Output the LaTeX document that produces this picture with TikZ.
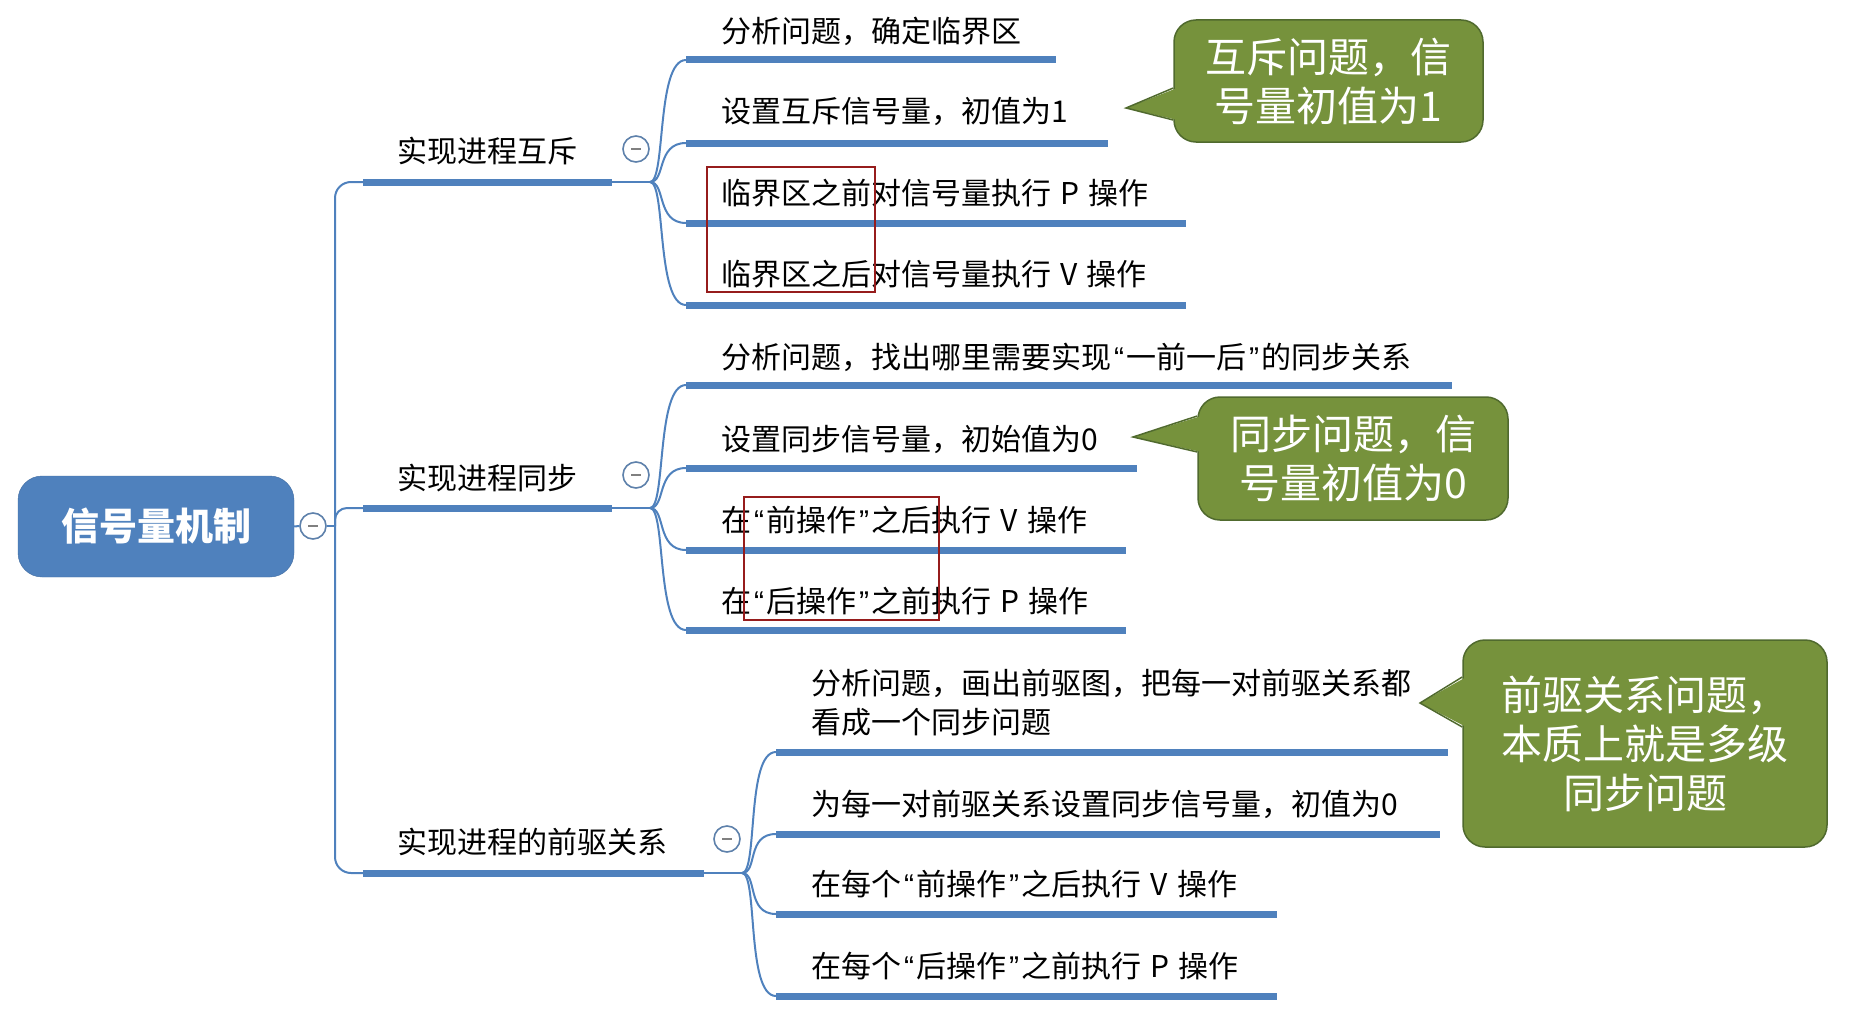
\documentclass[tikz,border=0pt]{standalone}
\usepackage{fontspec}
\setmainfont{Noto Sans CJK SC}
\newfontfamily\quotefont{Liberation Sans}
\newcommand{\lquo}{{\kern.1em\quotefont “\kern.08em}}
\newcommand{\rquo}{{\kern.08em\quotefont ”\kern.1em}}
\newcommand{\wsp}{\hspace{0.3em}}
\usetikzlibrary{positioning}
\definecolor{mapblue}{RGB}{79,129,189}
\definecolor{tipgreen}{RGB}{118,146,60}
\definecolor{tipedge}{RGB}{80,106,46}
\definecolor{markred}{RGB}{150,28,28}
\tikzset{
  rootnode/.style={draw=mapblue!85!black, fill=mapblue, rounded corners=24pt, minimum width=276pt, minimum height=101pt, text=white, font=\fontsize{38}{46}\selectfont\bfseries},
  branchtext/.style={anchor=west, inner sep=0pt, font=\fontsize{30}{35}\selectfont},
  leaftext/.style={anchor=west, inner sep=0pt, align=left, font=\fontsize{30}{39}\selectfont},
  bar/.style={mapblue, line width=7pt},
  twig/.style={mapblue, line width=2pt},
  foldmark/.style={circle, draw=mapblue!70!gray, fill=white, line width=1.6pt, minimum size=26pt, inner sep=0pt,
    path picture={\draw[gray, line width=1.6pt] ([xshift=-5pt]path picture bounding box.center) -- ([xshift=5pt]path picture bounding box.center);}},
  tipbox/.style={draw=tipedge, fill=tipgreen, line width=1.5pt, rounded corners=22pt, text=white, align=center, font=\fontsize{41}{49}\selectfont},
  tiptail/.style={draw=tipedge, line width=1.5pt},
  hilite/.style={draw=markred, line width=1.8pt}
}

\begin{document}
\begin{tikzpicture}[x=1pt, y=-1pt]
  \useasboundingbox (0,0) rectangle (1854,1022);

  % root
  \node[rootnode] (root) at (156,526.5) {信号量机制};
  \node[foldmark] (rootfold) at (313,526) {};
  \coordinate (trunk) at (335,526);
  \draw[twig] (root.east) -- (rootfold.west);
  \draw[twig] (rootfold.east) -- (trunk);

  % branch 1
  \coordinate (b1s) at (363,182);
  \coordinate (b1e) at (612,182);
  \coordinate (b1f) at (650,182);
  \node[branchtext] (b1) at (397,151) {实现进程互斥};
  \node[foldmark] (b1fold) at (636,149) {};
  \draw[twig, rounded corners=16pt] (trunk) |- (b1s);
  \draw[bar] (b1s) -- (b1e);
  \draw[twig] (b1e) -- (b1f);

  \node[leaftext] (c11) at (721,31) {分析问题，确定临界区};
  \node[leaftext] (c12) at (721,112) {设置互斥信号量，初值为1};
  \node[leaftext] (c13) at (721,193) {临界区之前对信号量执行\wsp P\wsp 操作};
  \node[leaftext] (c14) at (721,274) {临界区之后对信号量执行\wsp V\wsp 操作};
  \coordinate (c11s) at (686,60);  \coordinate (c11e) at (1056,60);
  \coordinate (c12s) at (686,143); \coordinate (c12e) at (1108,143);
  \coordinate (c13s) at (686,223); \coordinate (c13e) at (1186,223);
  \coordinate (c14s) at (686,305); \coordinate (c14e) at (1186,305);
  \foreach \c in {c11,c12,c13,c14} {
    \draw[twig] (b1f) .. controls +(16,0) and +(-30,0) .. (\c s);
    \draw[bar] (\c s) -- (\c e);
  }

  % branch 2
  \coordinate (b2s) at (363,508);
  \coordinate (b2e) at (612,508);
  \coordinate (b2f) at (650,508);
  \node[branchtext] (b2) at (397,478) {实现进程同步};
  \node[foldmark] (b2fold) at (636,475) {};
  \draw[twig, rounded corners=12pt] (trunk) |- (b2s);
  \draw[bar] (b2s) -- (b2e);
  \draw[twig] (b2e) -- (b2f);

  \node[leaftext] (c21) at (721,357) {分析问题，找出哪里需要实现\lquo 一前一后\rquo 的同步关系};
  \node[leaftext] (c22) at (721,439) {设置同步信号量，初始值为0};
  \node[leaftext] (c23) at (721,520) {在\lquo 前操作\rquo 之后执行\wsp V\wsp 操作};
  \node[leaftext] (c24) at (721,601) {在\lquo 后操作\rquo 之前执行\wsp P\wsp 操作};
  \coordinate (c21s) at (686,385); \coordinate (c21e) at (1452,385);
  \coordinate (c22s) at (686,468); \coordinate (c22e) at (1137,468);
  \coordinate (c23s) at (686,550); \coordinate (c23e) at (1126,550);
  \coordinate (c24s) at (686,630); \coordinate (c24e) at (1126,630);
  \foreach \c in {c21,c22,c23,c24} {
    \draw[twig] (b2f) .. controls +(16,0) and +(-30,0) .. (\c s);
    \draw[bar] (\c s) -- (\c e);
  }

  % branch 3
  \coordinate (b3s) at (363,873);
  \coordinate (b3e) at (704,873);
  \coordinate (b3f) at (742,873);
  \node[branchtext] (b3) at (397,842) {实现进程的前驱关系};
  \node[foldmark] (b3fold) at (727,839) {};
  \draw[twig, rounded corners=16pt] (trunk) |- (b3s);
  \draw[bar] (b3s) -- (b3e);
  \draw[twig] (b3e) -- (b3f);

  \node[leaftext] (c31) at (811,702.5) {分析问题，画出前驱图，把每一对前驱关系都\\看成一个同步问题};
  \node[leaftext] (c32) at (811,804) {为每一对前驱关系设置同步信号量，初值为0};
  \node[leaftext] (c33) at (811,884) {在每个\lquo 前操作\rquo 之后执行\wsp V\wsp 操作};
  \node[leaftext] (c34) at (811,966) {在每个\lquo 后操作\rquo 之前执行\wsp P\wsp 操作};
  \coordinate (c31s) at (776,752); \coordinate (c31e) at (1448,752);
  \coordinate (c32s) at (776,834); \coordinate (c32e) at (1440,834);
  \coordinate (c33s) at (776,914); \coordinate (c33e) at (1277,914);
  \coordinate (c34s) at (776,996); \coordinate (c34e) at (1277,996);
  \foreach \c in {c31,c32,c33,c34} {
    \draw[twig] (b3f) .. controls +(16,0) and +(-30,0) .. (\c s);
    \draw[bar] (\c s) -- (\c e);
  }

  % red marks
  \draw[hilite] (707,167) rectangle (875,292);
  \draw[hilite] (744,497) rectangle (939,620);

  % callouts
  \node[tipbox, minimum width=309pt, minimum height=122pt] (t1) at (1328.5,81) {互斥问题，信\\号量初值为1};
  \coordinate (t1tip) at (1126,108);
  \fill[tipgreen] ([xshift=4pt,yshift=-7pt]t1.west) -- (t1tip) -- ([xshift=4pt,yshift=-39pt]t1.west) -- cycle;
  \draw[tiptail] ([yshift=-7pt]t1.west) -- (t1tip) -- ([yshift=-39pt]t1.west);

  \node[tipbox, minimum width=310pt, minimum height=123pt] (t2) at (1353,458.5) {同步问题，信\\号量初值为0};
  \coordinate (t2tip) at (1133,437);
  \fill[tipgreen] ([xshift=4pt,yshift=42.5pt]t2.west) -- (t2tip) -- ([xshift=4pt,yshift=6.5pt]t2.west) -- cycle;
  \draw[tiptail] ([yshift=42.5pt]t2.west) -- (t2tip) -- ([yshift=6.5pt]t2.west);

  \node[tipbox, minimum width=364pt, minimum height=207pt] (t3) at (1645,743.5) {前驱关系问题，\\本质上就是多级\\同步问题};
  \coordinate (t3tip) at (1420,703);
  \fill[tipgreen] ([xshift=4pt,yshift=66.5pt]t3.west) -- (t3tip) -- ([xshift=4pt,yshift=16.5pt]t3.west) -- cycle;
  \draw[tiptail] ([yshift=66.5pt]t3.west) -- (t3tip) -- ([yshift=16.5pt]t3.west);
\end{tikzpicture}
\end{document}
